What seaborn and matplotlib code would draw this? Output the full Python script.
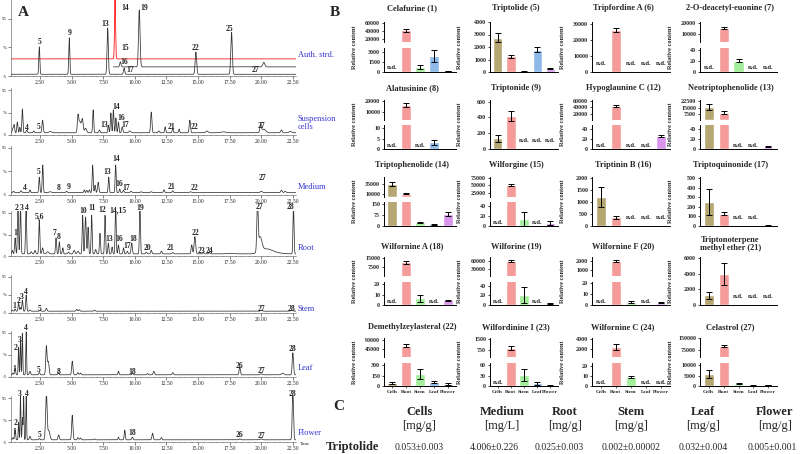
import numpy as np
import pandas as pd
import matplotlib
matplotlib.use("Agg")
import matplotlib.pyplot as plt
import seaborn as sns

sns.set_style("ticks")
plt.rcParams['font.family'] = ['Liberation Serif', 'DejaVu Sans']

W, H = 800, 454

# ---------------- panel A: chromatogram peaks (retention time, height, width) ----------------
auth_red_peaks = [(8.43, 108, 0.04)]
auth_upper_peaks = [(8.85, 9, 0.05), (10.35, 100, 0.06), (20.2, 8, 0.08)]
auth_lower_peaks = [(2.44, 48, 0.04), (4.81, 64, 0.04), (7.85, 81, 0.05), (9.15, 11, 0.05),
                    (14.83, 39, 0.06), (17.65, 74, 0.06)]
cells_peaks = [(0.35, 10, .05), (0.45, 17, .04), (0.7, 24, .04), (0.9, 12, .04), (1.1, 53, .04),
               (1.45, 6, .05), (2.0, 4, .05), (2.7, 28, .05), (3.3, 3, .1), (5.5, 33, .05),
               (5.65, 25, .1), (5.85, 28, .06), (6.1, 10, .08), (6.7, 51, .04), (7.2, 6, .05),
               (7.9, 17, .04), (8.1, 44, .04), (8.3, 51, .04), (8.5, 33, .04), (8.7, 24, .04),
               (9.0, 13, .05), (9.6, 4, .08), (11.3, 46, .05), (11.9, 4, .05), (12.4, 13, .04),
               (13.0, 11, .04), (13.5, 8, .04), (14.35, 28, .05), (15.7, 4, .08), (17.0, 2, .2),
               (19.95, 17, .06), (20.2, 8, .15), (21.6, 6, .06), (22.3, 3, .1)]
medium_peaks = [(0.4, 3, .05), (1.0, 4, .05), (1.7, 6, .04), (2.44, 33, .04), (2.71, 59, .04),
                (3.3, 2, .1), (4.6, 3, .05), (6.0, 6, .04), (6.2, 5, .04), (6.4, 6, .04),
                (6.66, 59, .04), (6.85, 16, .04), (7.1, 22, .05), (7.93, 33, .04), (8.48, 59, .04),
                (8.8, 8, .04), (9.1, 5, .05), (9.7, 3, .06), (10.5, 2, .06), (11.3, 2, .06),
                (12.3, 6, .05), (13.0, 4, .05), (14.4, 2, .06), (20.0, 3, .08), (21.6, 5, .06),
                (21.9, 3, .06)]
root_peaks = [(0.3, 8, .04), (0.52, 37, .04), (0.75, 110, .04), (0.95, 110, .04), (1.39, 110, .04),
              (1.8, 5, .05), (2.1, 8, .05), (2.44, 79, .04), (2.7, 14, .05), (3.1, 5, .08),
              (3.76, 37, .04), (4.02, 28, .04), (4.3, 14, .04), (4.74, 4, .05), (5.2, 8, .06),
              (5.5, 6, .06), (5.87, 90, .04), (6.1, 86, .05), (6.3, 62, .04), (6.58, 90, .04),
              (6.9, 10, .05), (7.24, 48, .04), (7.64, 90, .04), (7.9, 25, .04), (8.2, 16, .04),
              (8.48, 110, .04), (8.7, 21, .04), (9.1, 14, .04), (9.4, 6, .05), (9.75, 25, .05),
              (10.4, 110, .04), (10.9, 4, .05), (11.3, 8, .05), (12.1, 6, .05), (13.0, 3, .06),
              (14.5, 21, .05), (14.75, 40, .06), (15.4, 3, .05), (15.9, 3, .05), (17.5, 1, .3),
              (19.7, 110, .05), (19.9, 35, .15), (20.4, 10, .4), (21.0, 3, .5), (22.55, 110, .04)]
stem_peaks = [(0.3, 3, .04), (0.52, 6, .04), (0.8, 23, .04), (0.95, 10, .04), (1.1, 31, .04),
              (1.4, 45, .04), (1.7, 3, .05), (2.5, 2, .05), (3.0, 8, .05), (5.4, 5, .05),
              (5.6, 4, .05), (6.8, 3, .05), (20.0, 2, .08), (22.4, 2, .1)]
leaf_peaks = [(0.35, 4, .04), (0.52, 15, .04), (0.8, 63, .03), (0.95, 79, .03), (1.1, 95, .03),
              (1.4, 98, .03), (1.7, 8, .05), (2.44, 5, .05), (3.0, 65, .05), (3.15, 30, .06),
              (3.95, 4, .05), (5.05, 31, .05), (5.5, 5, .05), (5.7, 4, .05), (8.7, 8, .04),
              (9.8, 3, .05), (11.0, 3, .05), (11.5, 8, .05), (13.0, 5, .05), (18.3, 18, .05),
              (20.0, 2, .08), (21.7, 4, .08), (22.5, 50, .05)]
flower_peaks = [(0.35, 5, .04), (0.52, 22, .04), (0.8, 40, .03), (0.95, 100, .03), (1.1, 50, .03),
                (1.2, 100, .03), (1.4, 100, .03), (1.7, 8, .05), (2.44, 3, .05), (3.0, 105, .06),
                (3.2, 20, .08), (3.97, 11, .05), (5.05, 56, .05), (5.5, 5, .05), (5.7, 4, .05),
                (6.8, 2, .05), (8.7, 6, .04), (9.2, 22, .04), (9.8, 6, .05), (11.4, 15, .05),
                (12.1, 5, .05), (18.3, 2, .06), (20.0, 2, .08), (22.5, 110, .05)]

auth_labels = [("5", 2.44, 54), ("9", 4.81, 70), ("13", 7.65, 87), ("14", 9.2, 114), ("19", 10.75, 114),
               ("15", 9.25, 44), ("16", 9.15, 19), ("17", 9.65, 5), ("22", 14.83, 45), ("25", 17.45, 77),
               ("27", 19.55, 6)]
cells_labels = [("4", 1.45, 10), ("5", 2.35, 13), ("13", 7.6, 17), ("14", 8.55, 57), ("16", 8.9, 33),
                ("17", 9.2, 17), ("21", 12.9, 13), ("22", 14.75, 13), ("27", 20.05, 15)]
medium_labels = [("4", 1.3, 10), ("5", 2.35, 44), ("8", 4.0, 10), ("9", 4.8, 12), ("13", 7.85, 44),
                 ("14", 8.5, 72), ("16", 8.8, 18), ("17", 9.3, 10), ("21", 12.9, 12), ("22", 14.75, 10),
                 ("27", 20.1, 31)]
root_labels = [("1", 0.52, 48), ("2", 0.65, 107), ("3", 1.05, 107), ("4", 1.45, 107), ("5,6", 2.45, 86),
               ("7", 3.68, 48), ("8", 3.95, 39), ("9", 4.8, 14), ("10", 5.9, 100), ("11", 6.6, 107),
               ("12", 7.45, 102), ("13", 7.95, 35), ("14,15", 8.65, 102), ("16", 8.8, 34), ("17", 9.4, 18),
               ("18", 9.85, 35), ("19", 10.4, 107), ("20", 11.0, 14), ("21", 12.8, 14), ("22", 14.8, 48),
               ("23", 15.3, 7), ("24", 15.9, 7), ("27", 19.85, 108), ("28", 22.35, 108)]
stem_labels = [("1", 0.45, 14), ("2", 0.8, 27), ("3", 1.07, 39), ("4", 1.4, 52), ("5", 2.5, 5),
               ("27", 20.05, 6), ("28", 22.4, 6)]
leaf_labels = [("1", 0.5, 13), ("2", 0.6, 61), ("3", 0.85, 79), ("4", 1.4, 106), ("5", 2.35, 11),
               ("8", 3.95, 6), ("18", 9.8, 6), ("26", 18.3, 20), ("27", 20.05, 8), ("28", 22.5, 58)]
flower_labels = [("1", 0.45, 18), ("2", 0.6, 38), ("3", 0.85, 104), ("4", 1.45, 104), ("5", 2.5, 11),
                 ("18", 9.8, 15), ("26", 18.3, 11), ("27", 20.05, 9), ("28", 22.5, 104)]

time_ticks = [2.5, 5.0, 7.5, 10.0, 12.5, 15.0, 17.5, 20.0, 22.5]

# ---------------- panel B: relative content ----------------
categories = ["Cells", "Root", "Stem", "Leaf", "Flower"]
nd = np.nan
titles = ["Celafurine (1)", "Triptolide (5)", "Tripfordine A (6)", "2-O-deacetyl-euonine (7)",
          "Alatusinine (8)", "Triptonide (9)", "Hypoglaunine C (12)", "Neotriptophenolide (13)",
          "Triptophenolide (14)", "Wilforgine (15)", "Triptinin B (16)", "Triptoquinonide (17)",
          "Wilfornine A (18)", "Wilforine (19)", "Wilfornine F (20)", "Triptonoterpene\nmethyl ether (21)",
          "Demethylzeylasteral (22)", "Wilfordinine I (23)", "Wilfornine C (24)", "Celastrol (27)"]
means = [[nd, 41000, 750, 2400, 150],
         [2750, 1250, 50, 1800, 280],
         [nd, 26000, nd, nd, nd],
         [nd, 15500, 21, nd, nd],
         [nd, 16500, nd, 3.2, 0],
         [137, 420, nd, nd, nd],
         [nd, 45000, nd, nd, 26],
         [15700, 8700, nd, nd, 4],
         [36000, 10000, 25, 12, 82],
         [nd, 52000, 15, nd, 6],
         [1230, 370, nd, nd, nd],
         [250, 130, nd, nd, 8],
         [nd, 11600, 6.4, nd, 4.5],
         [nd, 60000, 21, nd, 3],
         [nd, 2050, 3, nd, 2],
         [1250, 3900, nd, nd, nd],
         [42, 62000, 170, 56, 33],
         [nd, 850, 32, 8, 2],
         [nd, 2400, 9, nd, nd],
         [5600, 100000, 1000, 300, 400]]
errors = [[0, 4000, 300, 850, 40],
          [350, 150, 20, 200, 60],
          [0, 1500, 0, 0, 0],
          [0, 500, 2, 0, 0],
          [0, 2200, 0, 1.2, 0],
          [45, 65, 0, 0, 0],
          [0, 3000, 0, 0, 2],
          [3300, 2000, 0, 0, 1],
          [5000, 500, 3, 2, 12],
          [0, 4000, 14, 0, 4],
          [420, 60, 0, 0, 0],
          [135, 20, 0, 0, 3],
          [0, 1000, 3.5, 0, 0.5],
          [0, 3000, 17, 0, 1.5],
          [0, 130, 1, 0, 0.3],
          [450, 1400, 0, 0, 0],
          [15, 7000, 75, 15, 15],
          [0, 150, 18, 4, 1],
          [0, 500, 1, 0, 0],
          [1900, 7000, 200, 100, 100]]
# y-axis segments: (upper lo, upper hi, upper ticks, lower hi, lower ticks); upper None = single axis
segments = [(12000, 62000, [20000, 40000, 60000], 3600, [0, 1500, 3000]),
            (None, None, None, 4000, [0, 1000, 2000, 3000, 4000]),
            (None, None, None, 31000, [0, 10000, 20000, 30000]),
            (2700, 21000, [10000, 20000], 44, [0, 20, 40]),
            (3300, 21000, [10000, 20000], 11.4, [0, 5, 10]),
            (None, None, None, 620, [0, 200, 400, 600]),
            (4000, 62000, [20000, 40000, 60000], 46, [0, 20, 40]),
            (500, 24000, [7500, 15000, 22500], 46, [0, 20, 40]),
            (2000, 55000, [10000, 35000], 157, [0, 75, 150]),
            (12000, 78000, [25000, 50000, 75000], 48, [0, 20, 40]),
            (None, None, None, 2050, [0, 500, 1000, 1500, 2000]),
            (None, None, None, 510, [0, 100, 200, 300, 400, 500]),
            (700, 15700, [7500, 15000], 22, [0, 10, 20]),
            (5000, 75000, [30000, 60000], 48, [0, 20, 40]),
            (200, 2500, [1000, 2000], 21, [0, 10, 20]),
            (None, None, None, 6100, [0, 2000, 4000, 6000]),
            (8000, 100000, [45000, 90000], 330, [0, 150, 300]),
            (230, 1560, [750, 1500], 66, [0, 30, 60]),
            (500, 4100, [2000, 4000], 23, [0, 10, 20]),
            (27000, 152000, [75000, 150000], 11000, [0, 5000, 10000])]
bar_colors = {"Cells": "#b6a672", "Root": "#f59c9a", "Stem": "#a2ee9a",
              "Leaf": "#8dbae8", "Flower": "#d994ec"}

# ---------------- panel C ----------------
tissues_c = ["Cells", "Medium", "Root", "Stem", "Leaf", "Flower"]
units_c = ["[mg/g]", "[mg/L]", "[mg/g]", "[mg/g]", "[mg/g]", "[mg/g]"]
triptolide_c = ["0.053\u00b10.003", "4.006\u00b10.226", "0.025\u00b10.003",
                "0.002\u00b10.00002", "0.032\u00b10.004", "0.005\u00b10.001"]

fig = plt.figure(figsize=(8, 4.54), dpi=100)


def px_axes(l, t, r, b):
    return fig.add_axes([l / W, 1 - b / H, (r - l) / W, (b - t) / H])


def ftext(x, y, s, **kw):
    fig.text(x / W, 1 - y / H, s, **kw)


tgrid = np.linspace(0.2, 22.75, 3000)


def trace(peaks, base):
    y = np.full_like(tgrid, base)
    for rt, h, w in peaks:
        y = y + h * np.exp(-0.5 * ((tgrid - rt) / w) ** 2)
    return y


blue = "#3434d0"
chrom_panels = [
    ([(auth_red_peaks, 25, "red", 0.2), (auth_upper_peaks, 11, "#333333", 8.3),
      (auth_lower_peaks, -2, "#333333", 0.2)], 76, 19, 128, auth_labels, "Auth. strd.", 55),
    ([(cells_peaks, 0, "#333333", 0.2)], 135, 90, 100, cells_labels, "Suspension\ncells", 123),
    ([(medium_peaks, 0, "#333333", 0.2)], 195, 148, 100, medium_labels, "Medium", 187),
    ([(root_peaks, 0, "#333333", 0.2)], 256, 213, 100, root_labels, "Root", 248),
    ([(stem_peaks, 0, "#333333", 0.2)], 313, 277, 100, stem_labels, "Stem", 309),
    ([(leaf_peaks, 0, "#333333", 0.2)], 377, 333, 100, leaf_labels, "Leaf", 368),
    ([(flower_peaks, 0, "#333333", 0.2)], 442, 398, 100, flower_labels, "Flower", 433),
]

for traces, bpx, p95, ytop, labels, side, side_y in chrom_panels:
    scale = (bpx - p95) / 100.0
    tpx = bpx - (ytop + 5) * scale
    ax = px_axes(11, tpx, 296, bpx)
    for peaks, base, col, start in traces:
        m = tgrid >= start
        sns.lineplot(x=tgrid[m], y=trace(peaks, base)[m], ax=ax, color=col,
                     linewidth=0.55, estimator=None, sort=False)
    ax.set_xlim(0.2, 22.75)
    ax.set_ylim(-5, ytop)
    ax.set_xticks(time_ticks)
    ax.set_xticklabels([f"{v:.2f}" for v in time_ticks], fontsize=4)
    ax.set_xticks(np.arange(0.5, 22.75, 0.5), minor=True)
    ax.set_yticks([95, 45, -5])
    ax.set_yticklabels(["95", "%", "-5"], fontsize=3.5)
    ax.tick_params(axis="both", which="major", length=2, width=0.4, pad=1)
    ax.tick_params(axis="x", which="minor", length=1, width=0.3)
    for s in ["top", "right"]:
        ax.spines[s].set_visible(False)
    for s in ["left", "bottom"]:
        ax.spines[s].set_linewidth(0.4)
        ax.spines[s].set_color("#555555")
    ax.set_xlabel("")
    ax.set_ylabel("")
    for txt, rt, yv in labels:
        ax.text(rt, yv, txt, fontsize=5.5, fontweight="bold", ha="center", va="center", clip_on=False)
    ftext(298, side_y, side, fontsize=6, color=blue, ha="left", va="center", linespacing=0.9)

ftext(300, 444, "Time", fontsize=3.5, ha="left", va="center")
ftext(23, 13, "A", fontsize=11, fontweight="bold", ha="center", va="center")
ftext(335, 12, "B", fontsize=11, fontweight="bold", ha="center", va="center")
ftext(339, 407, "C", fontsize=11, fontweight="bold", ha="center", va="center")

# ---------------- bar charts ----------------
cols_lr = [(384, 456), (490, 558), (592, 670), (700, 777)]
rows_tb = [(22, 72), (100, 149), (177, 226), (257, 305), (338, 386)]
title_y = [8, 88, 165, 246, 327]


def style_bar_ax(ax, show_x):
    for s in ["top", "right"]:
        ax.spines[s].set_visible(False)
    for s in ["left", "bottom"]:
        ax.spines[s].set_linewidth(0.7)
        ax.spines[s].set_color("black")
    ax.set_xlabel("")
    ax.set_ylabel("")
    ax.set_xlim(-0.6, 4.6)
    ax.tick_params(axis="y", length=1.8, width=0.6, labelsize=4.3, pad=1)
    if show_x:
        ax.tick_params(axis="x", length=1.2, width=0.5, labelsize=3.9, pad=1.5)
        for lb in ax.get_xticklabels():
            lb.set_fontweight("bold")
    else:
        ax.tick_params(axis="x", length=0, labelbottom=False)
    for lb in ax.get_yticklabels():
        lb.set_fontweight("bold")


def draw_bars(ax, vals, errs, lo):
    df = pd.DataFrame({"tissue": categories, "value": np.nan_to_num(vals)})
    sns.barplot(data=df, x="tissue", y="value", hue="tissue", order=categories,
                hue_order=categories, palette=bar_colors, width=0.7, saturation=1,
                legend=False, ax=ax)
    for i, (v, e) in enumerate(zip(vals, errs)):
        if np.isfinite(v) and e > 0 and v > lo:
            ax.errorbar(i, v, yerr=e, fmt="none", ecolor="black", elinewidth=0.7,
                        capsize=2, capthick=0.7)


for k in range(20):
    r, c = divmod(k, 4)
    l, rr = cols_lr[c]
    t, b = rows_tb[r]
    vals = np.array(means[k], dtype=float)
    errs = errors[k]
    up_lo, up_hi, up_ticks, lo_hi, lo_ticks = segments[k]
    show_x = (r == 4)
    if up_lo is None:
        ax_lo = px_axes(l, t, rr, b)
    else:
        h = b - t
        ax_up = px_axes(l, t, rr, t + 0.40 * h)
        ax_lo = px_axes(l, b - 0.48 * h, rr, b)
        draw_bars(ax_up, vals, errs, up_lo)
        ax_up.set_ylim(up_lo, up_hi)
        ax_up.set_yticks(up_ticks)
        ax_up.set_yticklabels([f"{v:g}" for v in up_ticks])
        style_bar_ax(ax_up, False)
        ax_up.spines["bottom"].set_visible(False)
    draw_bars(ax_lo, vals, errs, -1)
    ax_lo.set_ylim(0, lo_hi)
    ax_lo.set_yticks(lo_ticks)
    ax_lo.set_yticklabels([f"{v:g}" for v in lo_ticks])
    style_bar_ax(ax_lo, show_x)
    for i, v in enumerate(vals):
        if np.isnan(v):
            ax_lo.text(i, lo_hi * 0.17, "n.d.", fontsize=4.8, fontweight="bold",
                       ha="center", va="center")
    ftext((l + rr) / 2 - 8, title_y[r] - (2 if "\n" in titles[k] else 0), titles[k],
          fontsize=6, fontweight="bold", ha="center", va="center", linespacing=1.1)
    ftext(l - 30, (t + b) / 2, "Relative content", fontsize=4.5, fontweight="bold",
          rotation=90, ha="center", va="center")

# ---------------- panel C table ----------------
head_x = [419, 502, 565, 631, 703, 775]
val_x = [419, 494, 559, 631, 703, 772]
for hx, vx, tis, un, val in zip(head_x, val_x, tissues_c, units_c, triptolide_c):
    ftext(hx, 412, tis, fontsize=9, fontweight="bold", ha="center", va="center")
    ftext(hx, 426, un, fontsize=9, ha="center", va="center")
    ftext(vx, 447, val, fontsize=7, ha="center", va="center")
ftext(352, 447, "Triptolide", fontsize=9, fontweight="bold", ha="center", va="center")

fig.savefig("out.png", dpi=100)
